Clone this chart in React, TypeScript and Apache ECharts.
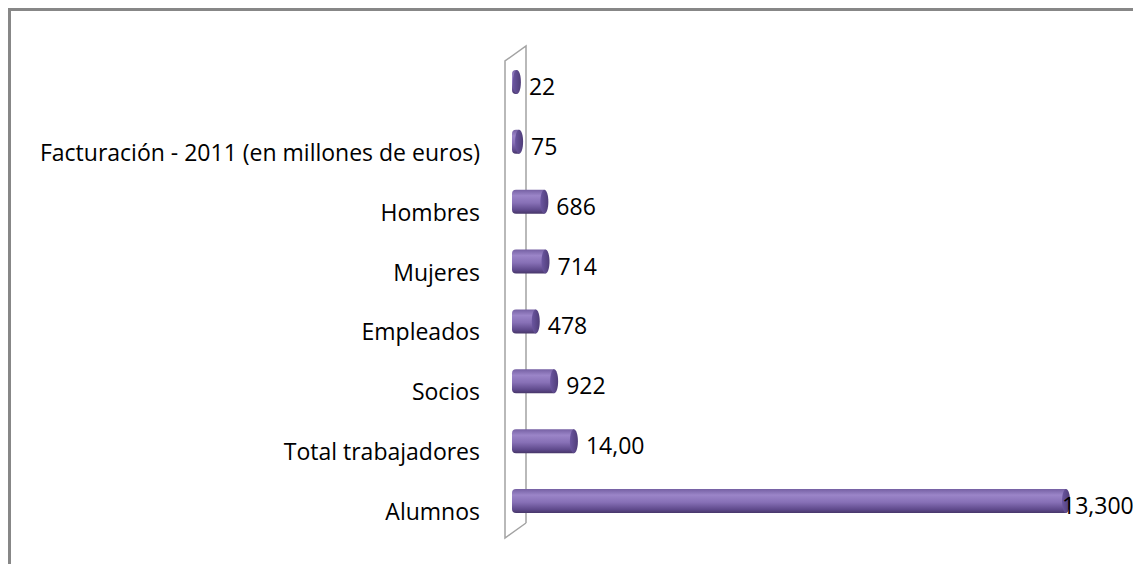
import React, { useEffect, useRef } from "react";
import * as echarts from "echarts";

const categories = [
  "Alumnos",
  "Total trabajadores",
  "Socios",
  "Empleados",
  "Mujeres",
  "Hombres",
  "Facturación - 2011 (en millones de euros)",
  "",
];
const values = [13300, 1400, 922, 478, 714, 686, 75, 22];
const valueLabels = ["13,300", "14,00", "922", "478", "714", "686", "75", "22"];

const FONT = "'Open Sans', sans-serif";

export default function App() {
  const ref = useRef<HTMLDivElement>(null);
  useEffect(() => {
    if (!ref.current) return;
    const chart = echarts.init(ref.current, null, { renderer: "svg" });
    const barGrad = new echarts.graphic.LinearGradient(0, 0, 0, 1, [
      { offset: 0, color: "#7560a3" },
      { offset: 0.25, color: "#9b85c8" },
      { offset: 0.55, color: "#8770b6" },
      { offset: 0.85, color: "#5f4a8c" },
      { offset: 1, color: "#473669" },
    ]);
    const capGrad = new echarts.graphic.LinearGradient(0, 0, 1, 0, [
      { offset: 0, color: "#6b56a0" },
      { offset: 1, color: "#4f3d78" },
    ]);
    chart.setOption({
      animation: false,
      backgroundColor: "#ffffff",
      grid: { left: 516, top: 52, width: 579, height: 479, containLabel: false },
      xAxis: {
        type: "value",
        min: 0,
        max: 14000,
        show: false,
      },
      yAxis: {
        type: "category",
        data: categories,
        axisLine: { show: false },
        axisTick: { show: false },
        splitLine: { show: false },
        axisLabel: {
          margin: 36,
          color: "#000",
          fontSize: 23,
          fontFamily: FONT,
          verticalAlign: "top",
          lineHeight: 20,
        },
      },
      graphic: [
        { type: "line", shape: { x1: 8, y1: 9.5, x2: 1133, y2: 9.5 }, style: { stroke: "#878787", lineWidth: 3 } },
        { type: "line", shape: { x1: 9.5, y1: 8, x2: 9.5, y2: 564 }, style: { stroke: "#878787", lineWidth: 3 } },
        { type: "polyline", shape: { points: [[526, 523], [526, 46], [505, 61], [505, 538], [526, 523]] }, style: { stroke: "#a3a3a3", lineWidth: 1.5, fill: "none" }, z: 0 },
      ],
      series: [
        {
          type: "custom",
          z: 10,
          data: values.map((v, i) => [v, i]),
          encode: { x: 0, y: 1 },
          renderItem: (params: any, api: any) => {
            const v = api.value(0);
            const idx = api.value(1);
            const end = api.coord([v, idx]);
            const start = api.coord([0, idx]);
            const h = 24;
            const rx = 4;
            const labelX = Math.min(end[0] + rx + 8, api.getWidth() - 71);
            return {
              type: "group",
              children: [
                {
                  type: "rect",
                  shape: { x: start[0] - rx, y: end[1] - h / 2, width: end[0] - start[0] + rx, height: h, r: [rx, 0, 0, rx] },
                  style: { fill: barGrad },
                },
                {
                  type: "ellipse",
                  shape: { cx: end[0], cy: end[1], rx: rx, ry: h / 2 },
                  style: { fill: capGrad },
                },
                {
                  type: "text",
                  x: labelX,
                  y: end[1] + 4,
                  style: {
                    text: valueLabels[params.dataIndex],
                    fill: "#000",
                    fontSize: 23,
                    fontFamily: FONT,
                    align: "left",
                    verticalAlign: "middle",
                  },
                },
              ],
            };
          },
        },
      ],
    });
    return () => chart.dispose();
  }, []);
  return (
    <div
      ref={ref}
      style={{ position: "absolute", left: 0, top: 0, width: 1133, height: 564 }}
    />
  );
}
